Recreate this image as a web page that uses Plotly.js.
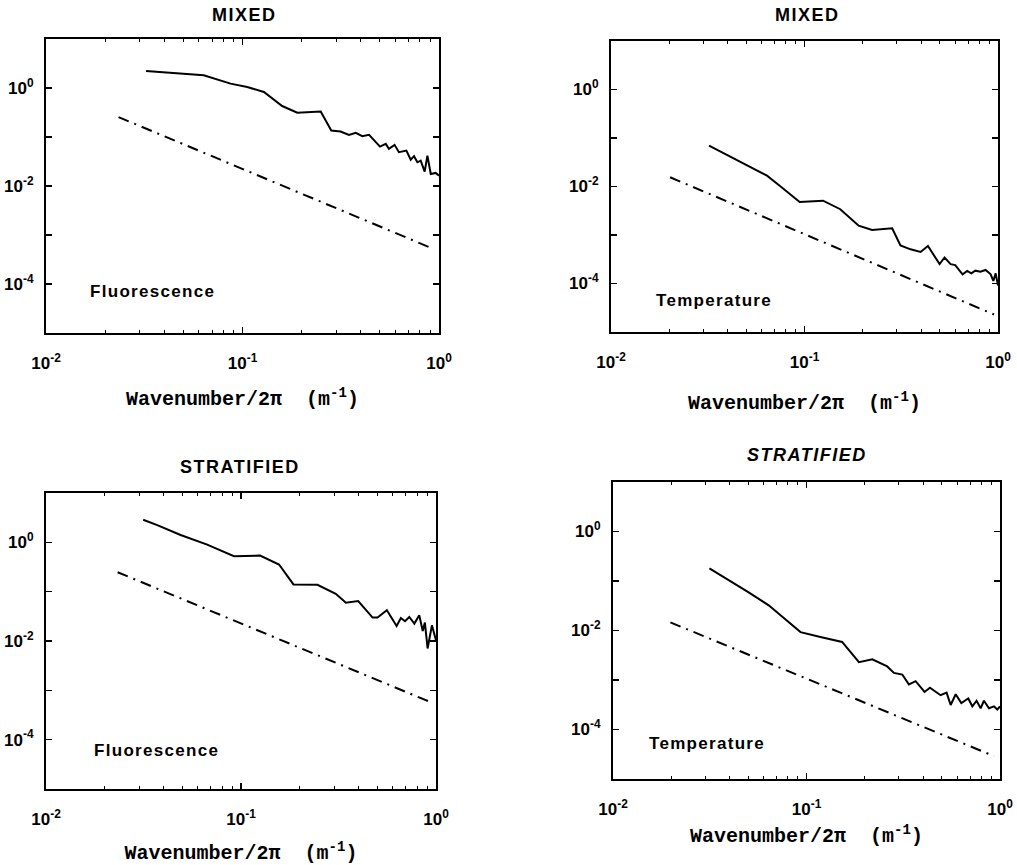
<!DOCTYPE html>
<html><head><meta charset="utf-8">
<script src="https://cdn.plot.ly/plotly-3.0.1.min.js"></script>
<style>html,body{margin:0;padding:0;background:#fff}#chart{width:1017px;height:865px}</style>
</head><body><div id="chart"></div>
<script>
// ---- data ----
const panelTitles = ['MIXED', 'MIXED', 'STRATIFIED', '<i>STRATIFIED</i>'];
const panelLabels = ['Fluorescence', 'Temperature', 'Fluorescence', 'Temperature'];
const xTitle = 'Wavenumber/2\u03c0\u00a0\u00a0(m<sup>-1</sup>)';

const xTickVals = [0.01, 0.1, 1];
const xTickText = ['10<sup>-2</sup>', '10<sup>-1</sup>', '10<sup>0</sup>'];
const yTickVals = [1, 0.01, 0.0001];
const yTickText = ['10<sup>0</sup>', '10<sup>-2</sup>', '10<sup>-4</sup>'];
const yMinorVals = [0.1, 0.001];

// Mixed, fluorescence
const mixFluoX = [0.0323,0.0635,0.0869,0.1057,0.1285,0.1416,0.1592,0.1901,0.250,0.283,0.3155,0.3483,0.3767,0.4074,0.4406,0.501,0.5358,0.5559,0.5943,0.6252,0.6823,0.7178,0.7464,0.7762,0.8072,0.8453,0.873,0.908,0.9616,1.0];
const mixFluoY = [2.228,1.816,1.227,1.047,0.828,0.605,0.4285,0.3126,0.3327,0.1355,0.1294,0.1107,0.1216,0.1042,0.1107,0.0638,0.0724,0.0573,0.0692,0.0490,0.0528,0.0345,0.0406,0.0305,0.0330,0.0196,0.0417,0.0176,0.0185,0.0163];
const mixFluoRefX = [0.0234, 0.907];
const mixFluoRefY = [0.255, 0.00055];

// Mixed, temperature
const mixTempX = [0.0321,0.0448,0.0640,0.0750,0.0944,0.1247,0.1531,0.1905,0.2234,0.2838,0.3133,0.3532,0.3981,0.4345,0.4989,0.5297,0.5689,0.6012,0.6561,0.6934,0.7278,0.7638,0.8110,0.8630,0.9162,0.9462,0.9727,1.0];
const mixTempY = [0.0693,0.0354,0.01675,0.01016,0.0048,0.0051,0.0034,0.00156,0.00127,0.00138,0.000611,0.000507,0.000448,0.000593,0.000251,0.000344,0.000251,0.000240,0.000155,0.000181,0.000162,0.000184,0.000175,0.000190,0.000155,0.000113,0.000162,0.0000912];
const mixTempRefX = [0.0202, 0.953];
const mixTempRefY = [0.0155, 0.000023];

// Stratified, fluorescence
const strFluoX = [0.0315,0.0372,0.0490,0.0671,0.0920,0.1253,0.1567,0.1858,0.2466,0.3062,0.3451,0.3990,0.4732,0.5012,0.5598,0.6281,0.6607,0.6934,0.7295,0.7745,0.8204,0.8551,0.8770,0.9057,0.9528,1.0];
const strFluoY = [2.864,2.239,1.406,0.8974,0.5224,0.5383,0.3548,0.1400,0.1377,0.0908,0.0597,0.0646,0.0298,0.0298,0.0419,0.0202,0.0293,0.0251,0.0307,0.0225,0.0332,0.0160,0.0236,0.00706,0.0208,0.0104];
const strFluoRefX = [0.0233, 0.925];
const strFluoRefY = [0.248, 0.00059];

// Stratified, temperature
const strTempX = [0.0315,0.0493,0.0638,0.0931,0.1180,0.1528,0.1866,0.2188,0.2612,0.2831,0.3126,0.3381,0.3664,0.4074,0.4345,0.4932,0.5297,0.5559,0.5902,0.6310,0.6855,0.7194,0.7568,0.7943,0.8260,0.8770,0.9311,0.9683,1.0];
const strTempY = [0.1795,0.0619,0.0322,0.00927,0.00738,0.00587,0.00229,0.00262,0.00188,0.00139,0.00129,0.000815,0.000948,0.000574,0.000700,0.000493,0.000557,0.000313,0.000516,0.000343,0.000424,0.000294,0.000381,0.000269,0.000381,0.000269,0.000294,0.000253,0.000294];
const strTempRefX = [0.0198, 0.931];
const strTempRefY = [0.0146, 0.000029];

// ---- layout ----
const W = 1017, H = 865;
const SANS = 'Liberation Sans, Arial, Helvetica, sans-serif';
const MONO = 'Liberation Mono, Courier New, monospace';
// frame boxes in pixels: [left, right, top, bottom]
const boxes = [[46,439,39,333],[611,998,41,332],[46,436,493,789],[613,1000,482,779]];
const titlePos = [[244,15],[807,15],[240,467],[807,455]];
const labelPos = [[-1.784,-4.15],[-1.78,-4.36],[-1.764,-4.22],[-1.824,-4.28]];
const titleStand = [19,24,18,10];

const series = [
  [mixFluoX, mixFluoY, mixFluoRefX, mixFluoRefY],
  [mixTempX, mixTempY, mixTempRefX, mixTempRefY],
  [strFluoX, strFluoY, strFluoRefX, strFluoRefY],
  [strTempX, strTempY, strTempRefX, strTempRefY]
];

const traces = [];
const layout = {
  width: W, height: H, margin: {l:0, r:0, t:0, b:0},
  paper_bgcolor: '#fff', plot_bgcolor: '#fff', showlegend: false,
  font: {family: SANS, color: '#000'},
  annotations: []
};

series.forEach((s, i) => {
  const n = i === 0 ? '' : String(i + 1);
  const xr = 'x' + n, yr = 'y' + n;
  traces.push({x: s[0], y: s[1], xaxis: xr, yaxis: yr, type: 'scatter', mode: 'lines',
    line: {color: '#000', width: 2}, hoverinfo: 'skip'});
  traces.push({x: s[2], y: s[3], xaxis: xr, yaxis: yr, type: 'scatter', mode: 'lines',
    line: {color: '#000', width: 2, dash: '11px,6px,2px,6px'}, hoverinfo: 'skip'});
  const b = boxes[i];
  layout['xaxis' + n] = {
    type: 'log', range: [-2, 0], domain: [b[0]/W, b[1]/W], anchor: yr,
    showgrid: false, zeroline: false, showline: true, linecolor: '#000', linewidth: 2,
    mirror: 'allticks', ticks: 'inside', ticklen: 6, tickwidth: 1.5, tickcolor: '#000',
    tickmode: 'array', tickvals: xTickVals, ticktext: xTickText,
    tickfont: {family: SANS, size: 17, color: '#000', weight: 'bold'}, ticklabelstandoff: 14,
    minor: {ticks: 'inside', ticklen: 3, tickwidth: 1, tickcolor: '#000', dtick: 'D1', showgrid: false},
    title: {text: xTitle, font: {family: MONO, size: 20, color: '#000', weight: 'bold'}, standoff: titleStand[i]},
    fixedrange: true
  };
  layout['yaxis' + n] = {
    type: 'log', range: [-5, 1], domain: [1 - b[3]/H, 1 - b[2]/H], anchor: xr,
    showgrid: false, zeroline: false, showline: true, linecolor: '#000', linewidth: 2,
    mirror: 'allticks', ticks: 'inside', ticklen: 6, tickwidth: 1.5, tickcolor: '#000',
    tickmode: 'array', tickvals: yTickVals, ticktext: yTickText,
    tickfont: {family: SANS, size: 17, color: '#000', weight: 'bold'}, ticklabelstandoff: 7,
    minor: {tickmode: 'array', tickvals: yMinorVals, ticks: 'inside', ticklen: 6, tickwidth: 1.5, tickcolor: '#000', showgrid: false},
    fixedrange: true
  };
  layout.annotations.push({
    xref: 'paper', yref: 'paper', x: titlePos[i][0]/W, y: 1 - titlePos[i][1]/H,
    xanchor: 'center', yanchor: 'middle', showarrow: false,
    text: '<span style="letter-spacing:1.5px">' + panelTitles[i] + '</span>',
    font: {family: SANS, size: 18, color: '#000', weight: 'bold'}
  });
  layout.annotations.push({
    xref: xr, yref: yr, x: labelPos[i][0], y: labelPos[i][1],
    xanchor: 'left', yanchor: 'middle', showarrow: false,
    text: '<span style="letter-spacing:1.3px">' + panelLabels[i] + '</span>',
    font: {family: SANS, size: 17, color: '#000', weight: 'bold'}
  });
});

Plotly.newPlot('chart', traces, layout, {staticPlot: true, displayModeBar: false});
</script></body></html>
